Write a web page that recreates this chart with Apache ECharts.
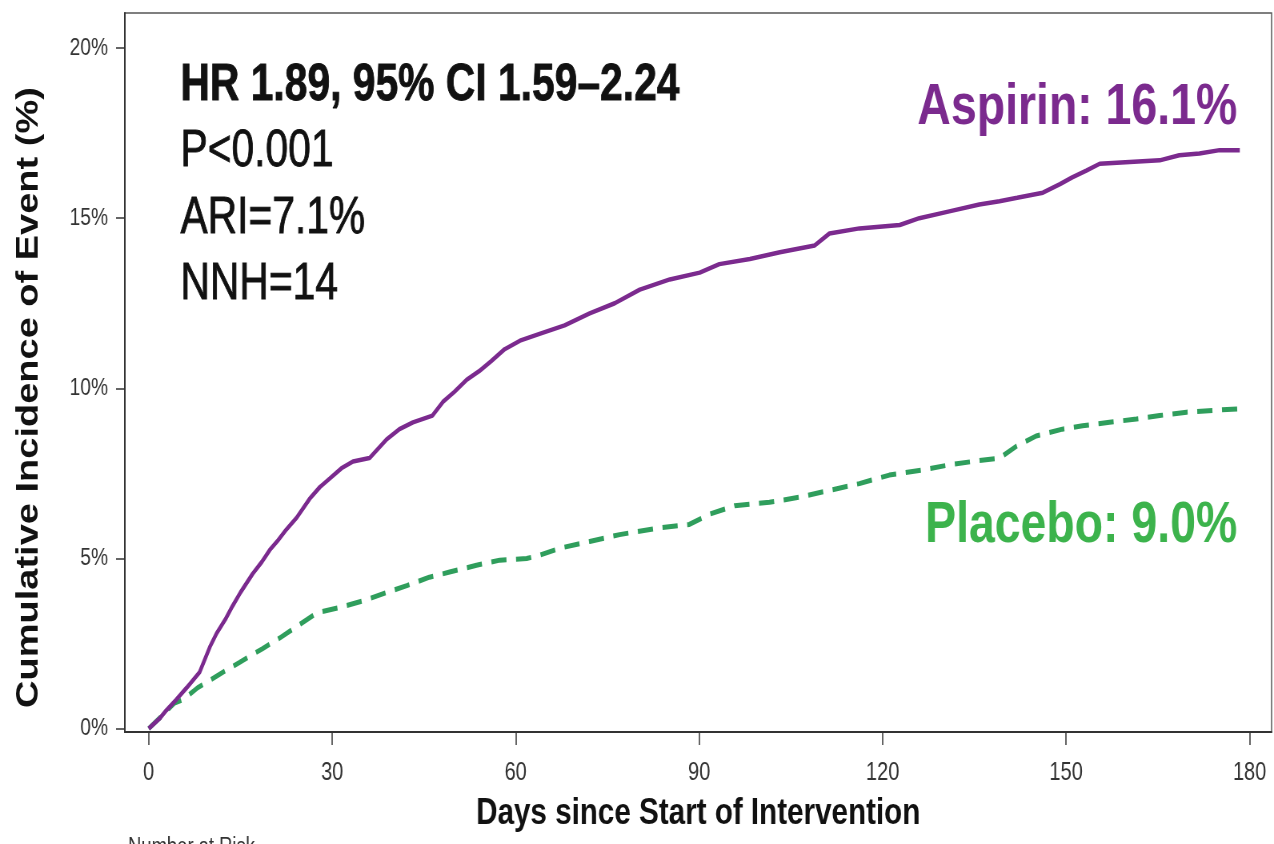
<!DOCTYPE html>
<html>
<head>
<meta charset="utf-8">
<script src="https://cdn.jsdelivr.net/npm/echarts@6/dist/echarts.min.js"></script>
<style>
  html, body { margin: 0; padding: 0; background: #fff; }
  #frame { width: 1274px; height: 844px; overflow: hidden; position: relative; }
  /* the chart is laid out wider and squeezed horizontally, giving condensed lettering */
  #chart { width: 1592px; height: 844px; transform: scaleX(0.80025); transform-origin: 0 0; }
</style>
</head>
<body>
<div id="frame"><div id="chart"></div></div>
<script>
// Cumulative incidence (%) by day since start of intervention
const aspirinDays = [0, 1.8, 2.9, 4.5, 6.2, 8.3, 10, 11.1, 12.5, 13.7, 15, 17, 18.5, 19.8, 21, 22.5, 24.2, 26.3, 28, 29.6,
  31.5, 33.4, 36.1, 38.9, 41, 43.2, 46.4, 48.1, 50, 52, 54, 56, 58.2, 60.7, 63.9, 68, 72.1, 76.2, 80.3, 85.2,
  90.1, 93.3, 98.3, 103.2, 108.9, 111.3, 116.2, 122.8, 126, 130.9, 135.8, 139.1, 142, 146.2, 149, 151, 153.3,
  155.5, 160.4, 165.3, 168.5, 171.8, 175.1, 178.4];
const aspirinPct = [0, 0.3, 0.54, 0.85, 1.2, 1.65, 2.4, 2.8, 3.2, 3.6, 4.0, 4.55, 4.9, 5.25, 5.5, 5.85, 6.2, 6.75, 7.1, 7.35,
  7.65, 7.85, 7.95, 8.5, 8.8, 9.0, 9.2, 9.6, 9.9, 10.25, 10.5, 10.8, 11.15, 11.4, 11.6, 11.85, 12.2, 12.5, 12.9, 13.2,
  13.4, 13.65, 13.8, 14.0, 14.2, 14.55, 14.7, 14.8, 15.0, 15.2, 15.4, 15.5, 15.6, 15.75, 16.0, 16.2, 16.4,
  16.6, 16.65, 16.7, 16.85, 16.9, 17.0, 17.0];

const placeboDays = [0, 2, 4.2, 5.6, 8, 11.6, 14.9, 18.6, 21.4, 24.2, 27.5, 31, 35, 38.9, 42.2, 45.9, 49.2, 53.6, 57.4,
  61.8, 64, 67.2, 72.1, 77, 83.5, 88.4, 91.7, 95.8, 101.5, 106.4, 111.3, 116.2, 121.1, 126.5, 130.9, 134.7,
  139.1, 141.9, 145.1, 149.4, 152.7, 157.1, 161.5, 165.3, 169.7, 174, 178.4];
const placeboPct = [0, 0.35, 0.75, 0.85, 1.2, 1.6, 1.95, 2.35, 2.66, 3.0, 3.4, 3.55, 3.75, 4.0, 4.2, 4.45, 4.6, 4.8, 4.95,
  5.0, 5.1, 5.3, 5.5, 5.7, 5.9, 6.0, 6.3, 6.55, 6.65, 6.8, 7.0, 7.2, 7.45, 7.6, 7.75, 7.85,
  7.95, 8.3, 8.6, 8.8, 8.9, 9.0, 9.1, 9.2, 9.3, 9.35, 9.4];

const xTicks = [0, 30, 60, 90, 120, 150, 180];
const yTicks = [0, 5, 10, 15, 20];
const statLines = ['HR 1.89, 95% CI 1.59\u20132.24', 'P<0.001', 'ARI=7.1%', 'NNH=14'];
const groupLabels = ['Aspirin: 16.1%', 'Placebo: 9.0%'];

const FONT = '"Liberation Sans", Arial, Helvetica, sans-serif';
const PURPLE = '#7b2a8e';
const GREEN_LINE = '#2f9e5c';
const GREEN_TEXT = '#3cb34c';

const pairs = (xs, ys) => xs.map((x, i) => [x, ys[i]]);

const chart = echarts.init(document.getElementById('chart'), null, { renderer: 'canvas' });

// plain statistics text, slightly stroked for a heavier print look
const statText = (text, top, bold) => ({
  type: 'text', left: 225, top: top,
  style: { text: text, font: (bold ? 'bold ' : '') + '51px ' + FONT, fill: '#111', stroke: '#111', lineWidth: 0.8 }
});

chart.setOption({
  animation: false,
  backgroundColor: '#fff',
  grid: {
    left: 156, right: 3, top: 13, bottom: 112,
    show: true, borderColor: '#555', borderWidth: 1.5
  },
  xAxis: {
    type: 'value', min: -3.9, max: 183.6,
    name: 'Days since Start of Intervention',
    nameLocation: 'middle', nameGap: 63,
    nameTextStyle: { fontFamily: FONT, fontSize: 37, fontWeight: 'bold', color: '#111' },
    axisLine: { show: true, onZero: false, lineStyle: { color: '#333', width: 2 } },
    axisTick: { show: true, customValues: xTicks, length: 13, lineStyle: { color: '#333', width: 1.5 } },
    axisLabel: { customValues: xTicks, margin: 29, fontFamily: FONT, fontSize: 25, color: '#333' },
    splitLine: { show: false }
  },
  yAxis: {
    type: 'value', min: -0.1, max: 21.03,
    name: 'Cumulative Incidence of Event (%)',
    nameLocation: 'middle', nameGap: 100,
    nameTextStyle: { fontFamily: FONT, fontSize: 38, fontWeight: 'bold', color: '#111', padding: [0, 50, 0, 0] },
    axisLine: { show: true, onZero: false, lineStyle: { color: '#333', width: 2 } },
    axisTick: { show: true, customValues: yTicks, length: 11, lineStyle: { color: '#333', width: 1.5 } },
    axisLabel: { customValues: yTicks, margin: 21, fontFamily: FONT, fontSize: 24, color: '#333',
      formatter: v => v + '%' },
    splitLine: { show: false }
  },
  series: [
    {
      name: 'Placebo', type: 'line', showSymbol: false, symbol: 'none',
      data: pairs(placeboDays, placeboPct),
      lineStyle: { color: GREEN_LINE, width: 5, type: [19, 12] },
      z: 2
    },
    {
      name: 'Aspirin', type: 'line', showSymbol: false, symbol: 'none',
      data: pairs(aspirinDays, aspirinPct),
      lineStyle: { color: PURPLE, width: 4.5 },
      z: 3
    }
  ],
  graphic: [
    statText(statLines[0], 60, true),
    statText(statLines[1], 126, false),
    statText(statLines[2], 193, false),
    statText(statLines[3], 259, false),
    { type: 'text', right: 46, top: 79, style: { text: groupLabels[0], font: 'bold 58px ' + FONT, fill: PURPLE } },
    { type: 'text', right: 46, top: 497, style: { text: groupLabels[1], font: 'bold 58px ' + FONT, fill: GREEN_TEXT } },
    { type: 'text', left: 160, top: 836, style: { text: 'Number at Risk', font: '23px ' + FONT, fill: '#333' } }
  ]
});
</script>
</body>
</html>
